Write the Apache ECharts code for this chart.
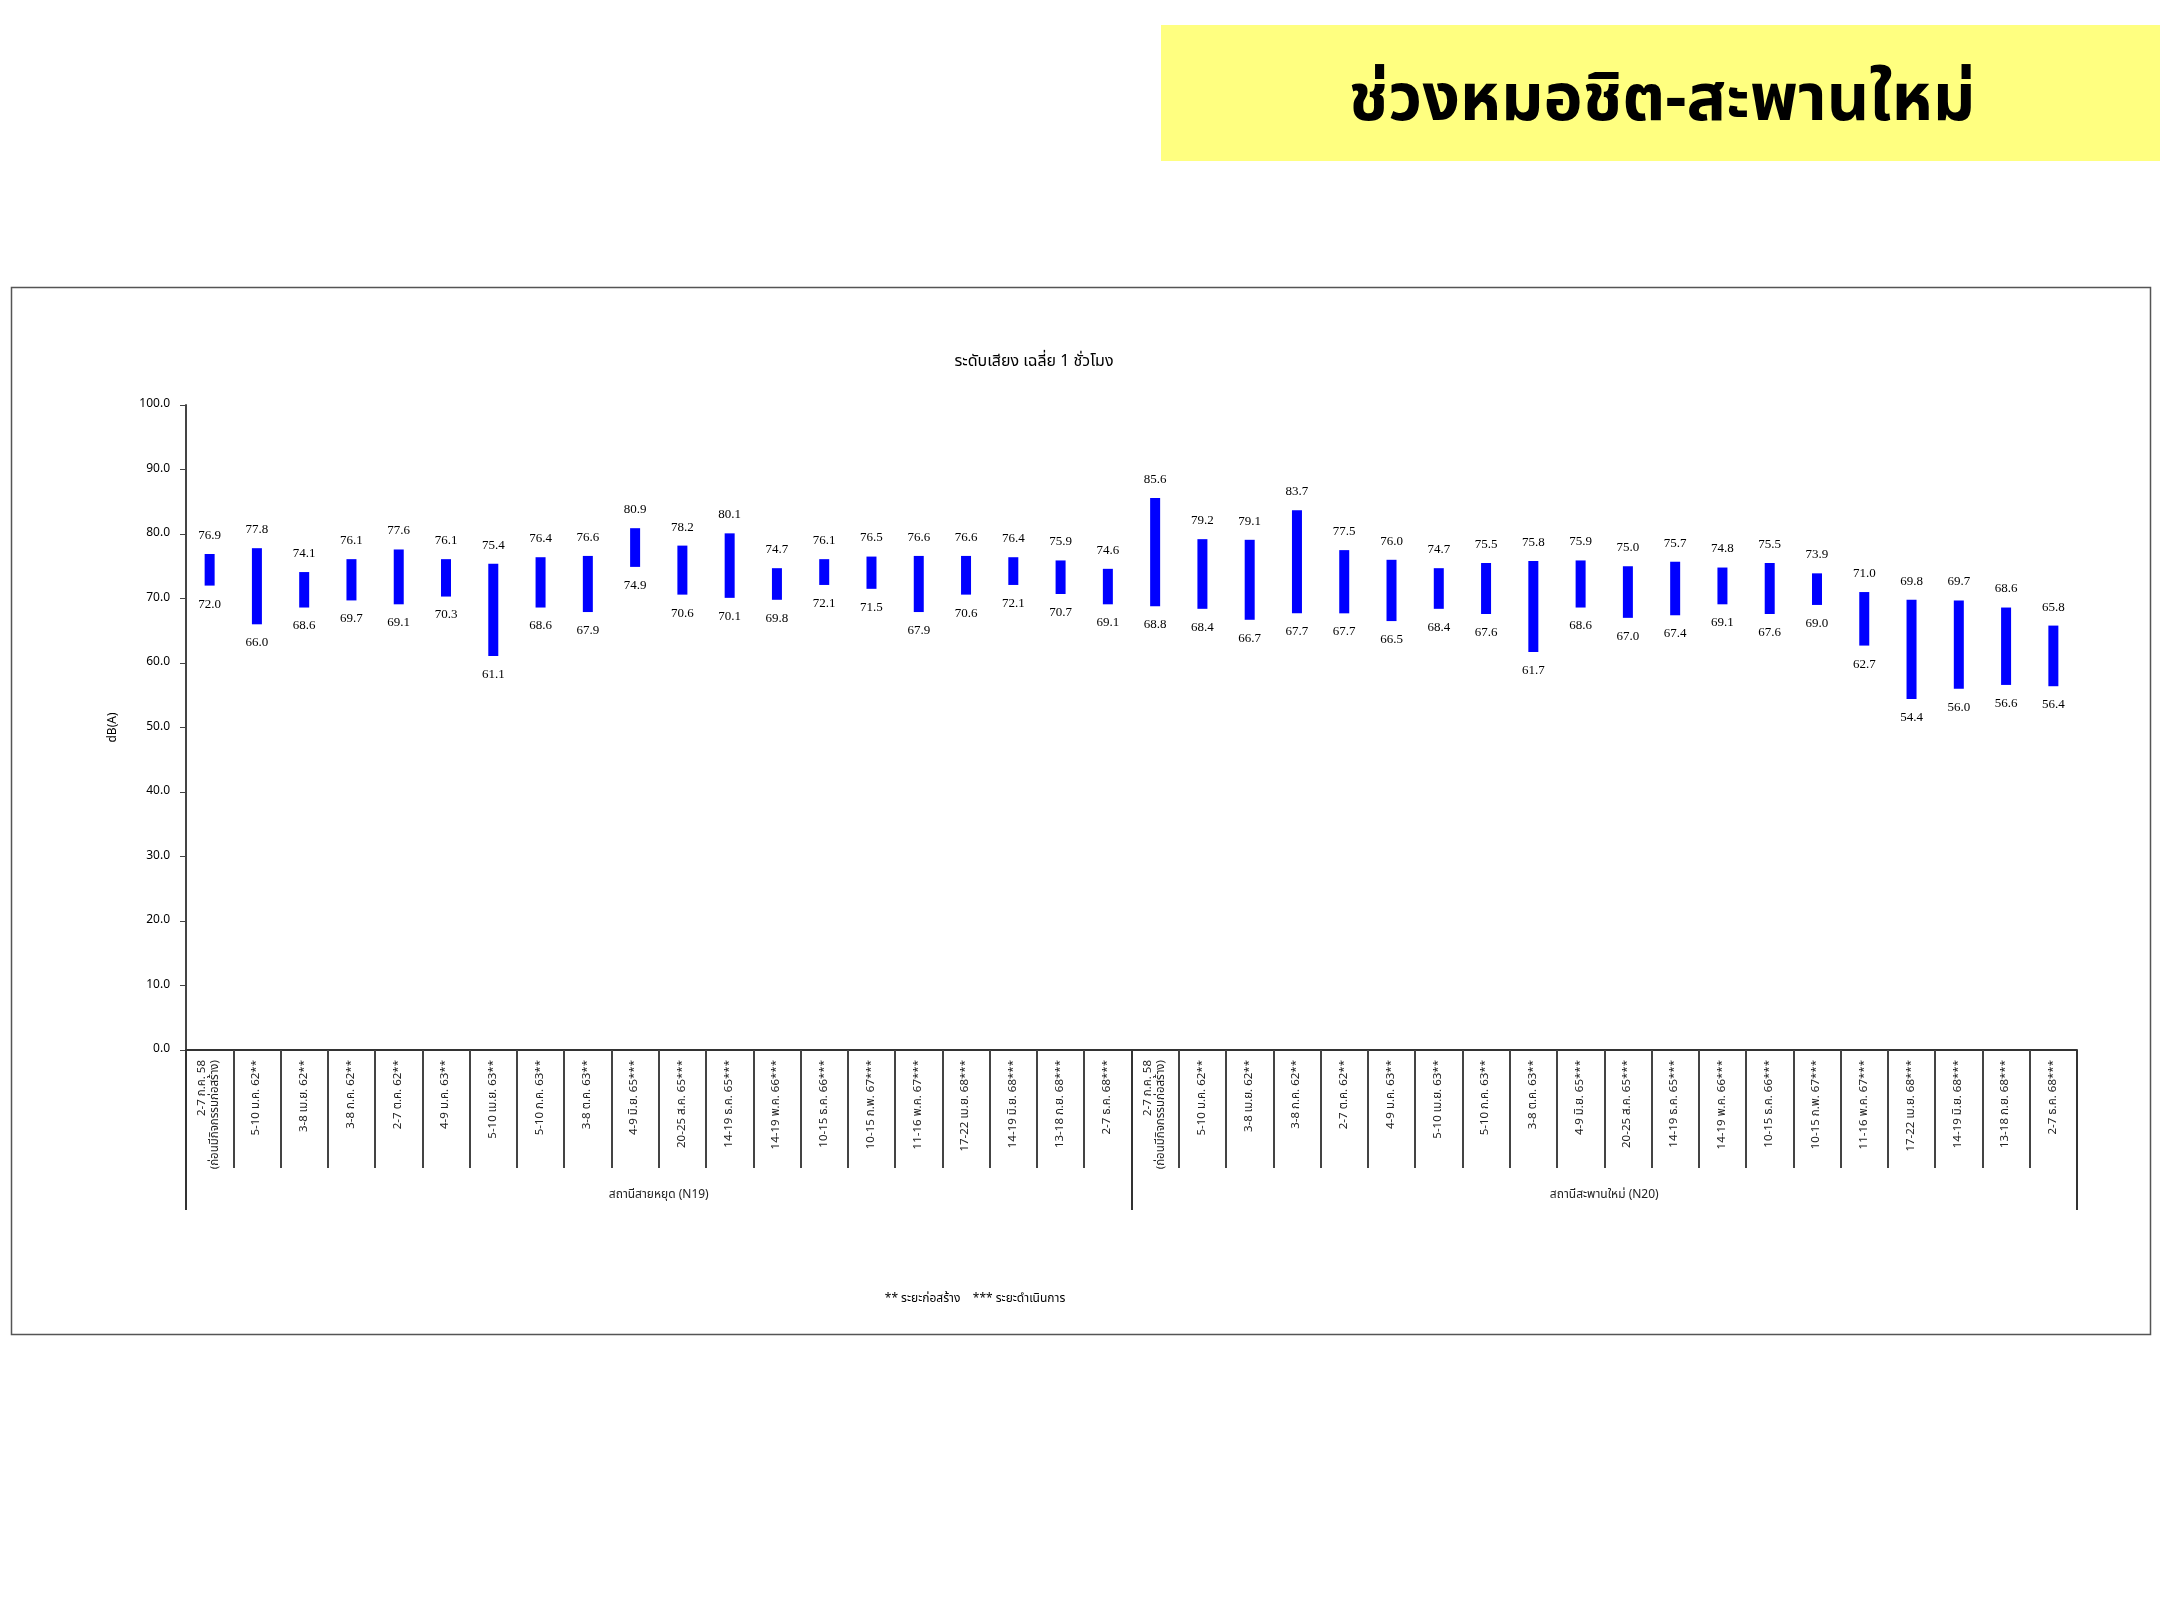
<!DOCTYPE html>
<html>
<head>
<meta charset="utf-8">
<script src="https://cdn.jsdelivr.net/npm/echarts@6/dist/echarts.min.js"></script>
<style>
html,body{margin:0;padding:0;background:#fff;}
#chart{width:2160px;height:1620px;}
</style>
</head>
<body>
<div id="chart"></div>
<script>
const periods = [
  '2-7 ก.ค. 58\n(ก่อนมีกิจกรรมก่อสร้าง)', '5-10 ม.ค. 62**', '3-8 เม.ย. 62**', '3-8 ก.ค. 62**', '2-7 ต.ค. 62**',
  '4-9 ม.ค. 63**', '5-10 เม.ย. 63**', '5-10 ก.ค. 63**', '3-8 ต.ค. 63**', '4-9 มิ.ย. 65***',
  '20-25 ส.ค. 65***', '14-19 ธ.ค. 65***', '14-19 พ.ค. 66***', '10-15 ธ.ค. 66***', '10-15 ก.พ. 67***',
  '11-16 พ.ค. 67***', '17-22 เม.ย. 68***', '14-19 มิ.ย. 68***', '13-18 ก.ย. 68***', '2-7 ธ.ค. 68***'
];
const stations = ['สถานีสายหยุด (N19)', 'สถานีสะพานใหม่ (N20)'];
const categories = periods.concat(periods);

const highN19 = [76.9, 77.8, 74.1, 76.1, 77.6, 76.1, 75.4, 76.4, 76.6, 80.9, 78.2, 80.1, 74.7, 76.1, 76.5, 76.6, 76.6, 76.4, 75.9, 74.6];
const lowN19  = [72.0, 66.0, 68.6, 69.7, 69.1, 70.3, 61.1, 68.6, 67.9, 74.9, 70.6, 70.1, 69.8, 72.1, 71.5, 67.9, 70.6, 72.1, 70.7, 69.1];
const highN20 = [85.6, 79.2, 79.1, 83.7, 77.5, 76.0, 74.7, 75.5, 75.8, 75.9, 75.0, 75.7, 74.8, 75.5, 73.9, 71.0, 69.8, 69.7, 68.6, 65.8];
const lowN20  = [68.8, 68.4, 66.7, 67.7, 67.7, 66.5, 68.4, 67.6, 61.7, 68.6, 67.0, 67.4, 69.1, 67.6, 69.0, 62.7, 54.4, 56.0, 56.6, 56.4];

const highs = highN19.concat(highN20);
const lows = lowN19.concat(lowN20);
const rangeData = categories.map((c, i) => [i, lows[i], highs[i]]);

const chart = echarts.init(document.getElementById('chart'));
const FONT = '"Noto Sans Thai","Tahoma","Noto Sans",sans-serif';

chart.setOption({
  animation: false,
  backgroundColor: '#ffffff',
  title: {
    text: 'ระดับเสียง เฉลี่ย 1 ชั่วโมง',
    left: 1029, top: 350, textAlign: 'center',
    textStyle: { fontSize: 16, fontWeight: 'normal', color: '#000', fontFamily: FONT }
  },
  grid: { left: 186, right: 83, top: 405, bottom: 570, containLabel: false },
  xAxis: [
    {
      type: 'category', data: categories, position: 'bottom',
      axisLine: { show: true, lineStyle: { color: '#333', width: 2 } },
      axisTick: { show: true, interval: 0, length: 118, lineStyle: { color: '#444', width: 2 } },
      axisLabel: { interval: 0, rotate: 90, margin: 10, fontSize: 11.5, color: '#222', fontFamily: FONT, lineHeight: 13 }
    },
    {
      type: 'category', data: stations, position: 'bottom', offset: 0,
      axisLine: { show: false },
      axisTick: { show: true, interval: 0, length: 160, lineStyle: { color: '#333', width: 2 } },
      axisLabel: { interval: 0, margin: 140, fontSize: 12, color: '#222', fontFamily: FONT }
    }
  ],
  yAxis: {
    type: 'value', min: 0, max: 100, interval: 10,
    name: 'dB(A)', nameLocation: 'middle', nameGap: 66, nameRotate: 90,
    nameTextStyle: { fontSize: 12, color: '#000', fontFamily: FONT },
    axisLine: { show: true, lineStyle: { color: '#444', width: 2 } },
    axisTick: { show: true, length: 6, lineStyle: { color: '#444' } },
    splitLine: { show: false },
    axisLabel: { formatter: v => v.toFixed(1), fontSize: 12, color: '#000', margin: 16, fontFamily: FONT }
  },
  series: [{
    type: 'custom',
    xAxisIndex: 0,
    data: rangeData,
    encode: { x: 0, y: [1, 2] },
    renderItem: function (params, api) {
      const x = api.value(0), lo = api.value(1), hi = api.value(2);
      const pHi = api.coord([x, hi]);
      const pLo = api.coord([x, lo]);
      const w = 10;
      return {
        type: 'group',
        children: [
          { type: 'rect', shape: { x: pHi[0] - w / 2, y: pHi[1], width: w, height: pLo[1] - pHi[1] },
            style: { fill: '#0000FF' } },
          { type: 'text', style: { text: hi.toFixed(1), x: pHi[0], y: pHi[1] - 12, align: 'center', verticalAlign: 'bottom',
            font: '13px "Liberation Serif", serif', fill: '#000' } },
          { type: 'text', style: { text: lo.toFixed(1), x: pLo[0], y: pLo[1] + 12, align: 'center', verticalAlign: 'top',
            font: '13px "Liberation Serif", serif', fill: '#000' } }
        ]
      };
    }
  }],
  graphic: [
    { type: 'rect', left: 1161, top: 25, shape: { width: 999, height: 136 }, style: { fill: '#FFFF80' }, z: 0 },
    { type: 'text', x: 1662, y: 107, style: { text: 'ช่วงหมอชิต-สะพานใหม่', align: 'center', verticalAlign: 'middle',
        font: 'bold 66px ' + FONT, fill: '#000' }, z: 1 },
    { type: 'rect', left: 9, top: 285, shape: { width: 2139, height: 1047 }, style: { fill: 'none', stroke: '#555', lineWidth: 1.5 }, z: -1, silent: true },
    { type: 'text', x: 975, y: 1300, style: { text: '** ระยะก่อสร้าง    *** ระยะดำเนินการ', align: 'center', verticalAlign: 'middle',
        font: '12px ' + FONT, fill: '#000' } }
  ]
});
</script>
</body>
</html>
